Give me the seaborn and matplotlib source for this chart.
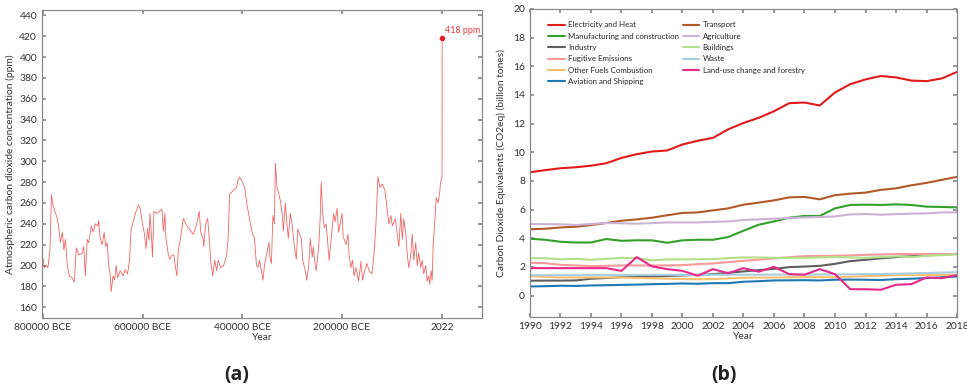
import numpy as np
import pandas as pd
import matplotlib
matplotlib.use("Agg")
import matplotlib.pyplot as plt
import seaborn as sns

# ── Data: panel (a) ice-core CO2 record (age in kyr before present, ppm) ────
AGE_KYR = [800, 797, 793, 790, 786, 785, 783, 780, 776, 771, 768, 765, 761, 758, 755, 751,
           747, 741, 737, 733, 728, 721, 718, 715, 711, 708, 703, 699, 695, 690, 688, 685,
           681, 677, 674, 671, 668, 665, 663, 659, 656, 653, 650, 645, 639, 635, 630, 626,
           623, 618, 613, 608, 605, 600, 596, 593, 590, 587, 585, 582, 580, 577, 571, 566,
           561, 558, 555, 553, 548, 545, 541, 537, 535, 531, 528, 525, 518, 511, 506, 498,
           491, 486, 483, 478, 477, 473, 469, 465, 463, 459, 455, 451, 448, 443, 437, 431,
           428, 425, 418, 411, 408, 405, 399, 395, 390, 385, 379, 375, 371, 368, 365, 361,
           358, 355, 350, 346, 344, 341, 338, 335, 333, 330, 326, 323, 319, 317, 313, 310,
           307, 303, 299, 295, 291, 288, 285, 281, 278, 273, 270, 266, 263, 259, 257, 253,
           251, 246, 243, 241, 238, 235, 231, 228, 225, 221, 216, 213, 209, 206, 203, 199,
           197, 191, 187, 185, 181, 178, 175, 171, 166, 161, 158, 153, 149, 145, 139, 135,
           131, 127, 123, 118, 113, 110, 105, 101, 98, 92, 88, 85, 81, 78, 75, 71,
           68, 65, 61, 58, 55, 51, 48, 45, 41, 38, 35, 31, 28, 25, 23, 20,
           18, 16, 13, 10, 6, 3, 1]
CO2_PPM = [207, 198, 200, 198, 215, 230, 268, 258, 252, 245, 235, 222, 232, 215, 225, 200,
           190, 188, 184, 217, 210, 212, 218, 190, 225, 222, 238, 232, 240, 238, 243, 226,
           220, 232, 218, 222, 200, 192, 175, 190, 186, 200, 188, 195, 190, 196, 192, 205,
           235, 243, 252, 258, 255, 240, 230, 216, 236, 224, 250, 228, 208, 252, 250, 252,
           254, 233, 250, 226, 210, 206, 210, 210, 202, 190, 215, 222, 245, 238, 235, 230,
           240, 252, 232, 225, 218, 240, 245, 220, 205, 190, 205, 195, 205, 198, 200, 210,
           225, 268, 272, 275, 282, 285, 280, 275, 258, 245, 230, 226, 200, 198, 205, 195,
           186, 200, 212, 222, 208, 202, 248, 240, 298, 276, 268, 262, 248, 233, 260, 240,
           226, 250, 238, 218, 206, 235, 231, 226, 205, 195, 186, 200, 226, 208, 218, 200,
           195, 218, 246, 280, 250, 236, 240, 222, 205, 225, 250, 242, 255, 232, 240, 250,
           228, 220, 230, 210, 198, 205, 190, 198, 185, 204, 186, 196, 202, 195, 192, 210,
           240, 285, 275, 278, 272, 260, 240, 248, 238, 245, 230, 218, 250, 225, 245, 230,
           210, 198, 210, 230, 205, 222, 200, 212, 198, 205, 192, 200, 185, 190, 182, 195,
           186, 220, 240, 265, 260, 270, 280]
MODERN_YEARS = [1850, 2022]
MODERN_PPM = [285, 418]

# ── Data: panel (b) emissions by sector, billion tonnes CO2eq ────────────────
YEARS = list(range(1990, 2019))
ELECTRICITY = [8.6, 8.75, 8.88, 8.95, 9.06, 9.23, 9.6, 9.86, 10.05, 10.12, 10.54, 10.8, 11.0, 11.6,
               12.04, 12.4, 12.86, 13.42, 13.47, 13.26, 14.17, 14.75, 15.08, 15.32, 15.22, 15.0,
               14.96, 15.15, 15.6]
TRANSPORT = [4.62, 4.66, 4.75, 4.8, 4.92, 5.06, 5.22, 5.31, 5.43, 5.6, 5.76, 5.8, 5.94, 6.08, 6.34,
             6.48, 6.64, 6.85, 6.88, 6.71, 7.0, 7.11, 7.18, 7.37, 7.48, 7.69, 7.86, 8.07, 8.28]
MANUFACTURING = [3.96, 3.89, 3.75, 3.7, 3.7, 3.94, 3.82, 3.85, 3.85, 3.68, 3.85, 3.89, 3.89, 4.08,
                 4.52, 4.94, 5.17, 5.43, 5.55, 5.55, 6.08, 6.32, 6.34, 6.32, 6.36, 6.32, 6.2, 6.18,
                 6.15]
AGRICULTURE = [4.99, 4.98, 4.97, 4.92, 4.99, 5.06, 5.04, 5.01, 5.05, 5.1, 5.1, 5.1, 5.14, 5.17, 5.27,
               5.31, 5.36, 5.41, 5.45, 5.48, 5.52, 5.66, 5.69, 5.64, 5.68, 5.71, 5.73, 5.8, 5.8]
INDUSTRY = [1.03, 1.04, 1.04, 1.05, 1.17, 1.22, 1.28, 1.3, 1.33, 1.36, 1.4, 1.44, 1.49, 1.58, 1.68,
            1.77, 1.86, 1.98, 2.02, 2.07, 2.21, 2.4, 2.49, 2.59, 2.68, 2.74, 2.8, 2.85, 2.91]
BUILDINGS = [2.61, 2.6, 2.52, 2.56, 2.49, 2.56, 2.63, 2.61, 2.45, 2.52, 2.52, 2.53, 2.54, 2.61, 2.66,
             2.65, 2.63, 2.63, 2.63, 2.66, 2.68, 2.66, 2.63, 2.68, 2.73, 2.68, 2.77, 2.82, 2.87]
FUGITIVE = [2.28, 2.26, 2.14, 2.1, 2.05, 2.07, 2.1, 2.1, 2.09, 2.1, 2.12, 2.18, 2.24, 2.33, 2.42,
            2.5, 2.59, 2.67, 2.75, 2.76, 2.77, 2.8, 2.84, 2.86, 2.89, 2.89, 2.89, 2.89, 2.89]
WASTE = [1.42, 1.42, 1.42, 1.42, 1.43, 1.43, 1.43, 1.43, 1.44, 1.44, 1.44, 1.44, 1.45, 1.45, 1.45,
         1.45, 1.46, 1.46, 1.46, 1.47, 1.47, 1.48, 1.49, 1.5, 1.52, 1.54, 1.57, 1.6, 1.63]
OTHER_FUELS = [1.35, 1.3, 1.26, 1.26, 1.26, 1.26, 1.26, 1.22, 1.2, 1.17, 1.14, 1.14, 1.14, 1.19,
               1.24, 1.25, 1.26, 1.27, 1.28, 1.28, 1.28, 1.31, 1.35, 1.38, 1.42, 1.42, 1.42, 1.44,
               1.45]
LAND_USE = [1.91, 1.91, 1.91, 1.91, 1.91, 1.91, 1.72, 2.68, 2.03, 1.84, 1.72, 1.38, 1.84, 1.56, 1.91,
            1.66, 2.0, 1.49, 1.45, 1.84, 1.49, 0.44, 0.44, 0.4, 0.75, 0.79, 1.26, 1.21, 1.42]
AVIATION = [0.63, 0.65, 0.68, 0.67, 0.7, 0.72, 0.74, 0.76, 0.79, 0.81, 0.84, 0.82, 0.86, 0.86, 0.96,
            1.0, 1.05, 1.06, 1.07, 1.05, 1.1, 1.11, 1.1, 1.08, 1.14, 1.17, 1.21, 1.27, 1.33]

SECTORS = ["Electricity and Heat", "Manufacturing and construction", "Industry",
           "Fugitive Emissions", "Other Fuels Combustion", "Aviation and Shipping",
           "Transport", "Agriculture", "Buildings", "Waste", "Land-use change and forestry"]
SECTOR_VALUES = [ELECTRICITY, MANUFACTURING, INDUSTRY, FUGITIVE, OTHER_FUELS, AVIATION,
                 TRANSPORT, AGRICULTURE, BUILDINGS, WASTE, LAND_USE]
SECTOR_COLORS = ["#e31a1c", "#33a02c", "#5f5f5f", "#fb9a99", "#fdbf6f", "#1f78b4",
                 "#b15928", "#cab2d6", "#b2df8a", "#a6cee3", "#e7298a"]

# ── Style ───────────────────────────────────────────────────────────────────
sns.set_theme(style="ticks")
plt.rcParams.update({
    "font.family": ["Lato", "DejaVu Sans"],
    "axes.edgecolor": "#8a8a8a",
    "axes.linewidth": 0.9,
    "xtick.color": "#8a8a8a",
    "ytick.color": "#8a8a8a",
    "xtick.labelcolor": "#333333",
    "ytick.labelcolor": "#333333",
    "xtick.direction": "in",
    "ytick.direction": "in",
    "xtick.top": True,
    "ytick.right": True,
    "xtick.major.size": 3,
    "ytick.major.size": 3,
    "xtick.labelsize": 7.4,
    "ytick.labelsize": 7.5,
    "axes.labelsize": 7.4,
    "axes.labelcolor": "#333333",
})

fig = plt.figure(figsize=(9.67, 3.88), dpi=100)
ax1 = fig.add_axes([0.0434, 0.180, 0.455, 0.794])
ax2 = fig.add_axes([0.548, 0.183, 0.4417, 0.794])

# ── Panel (a) ───────────────────────────────────────────────────────────────
ice = pd.DataFrame({"year": [-a * 1000 for a in AGE_KYR] + MODERN_YEARS,
                    "ppm": CO2_PPM + MODERN_PPM})
sns.lineplot(data=ice, x="year", y="ppm", ax=ax1, sort=False, estimator=None,
             color="#ec3030", lw=0.6, alpha=0.75)
ax1.plot(MODERN_YEARS[-1], MODERN_PPM[-1], "o", color="#e8202a", ms=3)
ax1.annotate(f"{MODERN_PPM[-1]} ppm", xy=(MODERN_YEARS[-1], MODERN_PPM[-1]),
             xytext=(2, 4), textcoords="offset points", fontsize=6.5, color="#ee3a3a")
ax1.set_xlim(-802000, 82000)
ax1.set_ylim(149.5, 445)
ax1.set_xticks([-800000, -600000, -400000, -200000, 2022])
ax1.xaxis.set_major_formatter(plt.FuncFormatter(
    lambda x, _: f"{-x:.0f} BCE" if x < 0 else f"{x:.0f}"))
ax1.set_yticks(np.arange(160, 441, 20))
ax1.set_xlabel("Year", labelpad=1)
ax1.set_ylabel("Atmospheric carbon dioxide concentration (ppm)", labelpad=3)

# ── Panel (b) ───────────────────────────────────────────────────────────────
rows = []
for name, vals in zip(SECTORS, SECTOR_VALUES):
    for yr, v in zip(YEARS, vals):
        rows.append({"Year": yr, "value": v, "sector": name})
emis = pd.DataFrame(rows)
sns.lineplot(data=emis, x="Year", y="value", hue="sector", hue_order=SECTORS,
             palette=SECTOR_COLORS, ax=ax2, lw=1.5)
ax2.set_xlim(1990, 2018)
ax2.set_ylim(-1.5, 20)
ax2.set_xticks(range(1990, 2019, 2))
ax2.set_yticks(range(0, 21, 2))
ax2.set_xlabel("Year", labelpad=1)
ax2.set_ylabel("Carbon Dioxide Equivalents (CO2eq) (billion tones)", labelpad=5)
ax2.legend(loc="upper left", ncol=2, frameon=False, fontsize=5.7, handlelength=2.1,
           labelspacing=0.55, columnspacing=0.5, handletextpad=0.4,
           bbox_to_anchor=(0.035, 0.97), borderaxespad=0)

# ── Panel labels ────────────────────────────────────────────────────────────
fig.text(0.245, 0.033, "(a)", ha="center", va="center", fontsize=14, fontweight="bold",
         color="#222222", family=["Open Sans", "DejaVu Sans"])
fig.text(0.749, 0.033, "(b)", ha="center", va="center", fontsize=14, fontweight="bold",
         color="#222222", family=["Open Sans", "DejaVu Sans"])

fig.savefig("out.png", dpi=100)
